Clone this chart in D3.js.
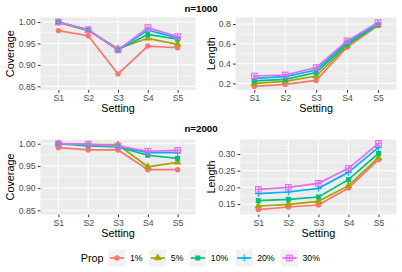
<!DOCTYPE html>
<html>
<head>
<meta charset="utf-8">
<script src="https://cdn.jsdelivr.net/npm/d3@7"></script>
<style>
body { margin: 0; background: #fff; }
text { font-family: "Liberation Sans", Arial, sans-serif; }
</style>
</head>
<body>
<svg width="402" height="272"></svg>
<script>
// categories
var settings = ["S1", "S2", "S3", "S4", "S5"];
var props = ["1%", "5%", "10%", "20%", "30%"];
var colors = ["#F8766D", "#A3A500", "#00BF7D", "#00B0F6", "#E76BF3"];
var shapes = ["circle", "triangle", "square", "plus", "squareplus"];

// values, one row per prop
var cov1000 = [
  [0.980, 0.968, 0.879, 0.944, 0.940],
  [0.999, 0.980, 0.938, 0.962, 0.948],
  [1.000, 0.981, 0.935, 0.971, 0.960],
  [1.000, 0.982, 0.935, 0.981, 0.963],
  [1.000, 0.982, 0.935, 0.987, 0.966]
];
var len1000 = [
  [0.170, 0.190, 0.230, 0.565, 0.783],
  [0.200, 0.220, 0.275, 0.580, 0.790],
  [0.225, 0.240, 0.310, 0.595, 0.795],
  [0.250, 0.268, 0.335, 0.615, 0.803],
  [0.275, 0.285, 0.360, 0.630, 0.815]
];
var cov2000 = [
  [0.991, 0.986, 0.986, 0.9415, 0.9415],
  [1.000, 0.998, 0.998, 0.948, 0.958],
  [1.000, 0.995, 0.993, 0.974, 0.967],
  [1.000, 0.998, 0.994, 0.980, 0.980],
  [1.000, 0.999, 0.995, 0.983, 0.985]
];
var len2000 = [
  [0.133, 0.141, 0.147, 0.198, 0.283],
  [0.144, 0.149, 0.158, 0.205, 0.289],
  [0.160, 0.164, 0.171, 0.223, 0.302],
  [0.181, 0.186, 0.197, 0.245, 0.320],
  [0.194, 0.200, 0.212, 0.257, 0.332]
];

// tick labels
var covTicks = [0.85, 0.90, 0.95, 1.00];
var covMinor = [0.875, 0.925, 0.975];
var len1000Ticks = [0.2, 0.4, 0.6, 0.8];
var len1000Minor = [0.3, 0.5, 0.7];
var len2000Ticks = [0.15, 0.20, 0.25, 0.30];
var len2000Minor = [0.125, 0.175, 0.225, 0.275, 0.325];

var svg = d3.select("svg");

function drawShape(g, shape, color, cx, cy) {
  var s = 2.8;
  if (shape === "circle") {
    g.append("circle").attr("cx", cx).attr("cy", cy).attr("r", 2.7).attr("fill", color);
  } else if (shape === "triangle") {
    g.append("path").attr("transform", "translate(" + cx + "," + cy + ")")
      .attr("d", d3.symbol(d3.symbolTriangle, 26)()).attr("fill", color);
  } else if (shape === "square") {
    g.append("rect").attr("x", cx - 2.5).attr("y", cy - 2.5).attr("width", 5).attr("height", 5).attr("fill", color);
  } else if (shape === "plus") {
    g.append("path").attr("d", "M" + (cx - 3.4) + "," + cy + "H" + (cx + 3.4) + "M" + cx + "," + (cy - 3.4) + "V" + (cy + 3.4))
      .attr("stroke", color).attr("stroke-width", 1.1).attr("fill", "none");
  } else {
    g.append("rect").attr("x", cx - s).attr("y", cy - s).attr("width", 2 * s).attr("height", 2 * s)
      .attr("stroke", color).attr("stroke-width", 1.1).attr("fill", "none");
    g.append("path").attr("d", "M" + (cx - s) + "," + cy + "H" + (cx + s) + "M" + cx + "," + (cy - s) + "V" + (cy + s))
      .attr("stroke", color).attr("stroke-width", 1.1).attr("fill", "none");
  }
}

function panel(p) {
  var x = d3.scalePoint().domain(settings).range([p.x0, p.x1]).padding(0.6);
  var y = d3.scaleLinear().domain(p.domain).range([p.y1, p.y0]);
  var g = svg.append("g");

  g.append("rect").attr("x", p.x0).attr("y", p.y0)
    .attr("width", p.x1 - p.x0).attr("height", p.y1 - p.y0).attr("fill", "#EBEBEB");

  g.selectAll(".minor").data(p.minor).enter().append("line")
    .attr("x1", p.x0).attr("x2", p.x1)
    .attr("y1", function(d) { return y(d); }).attr("y2", function(d) { return y(d); })
    .attr("stroke", "#fff").attr("stroke-width", 0.5);
  g.selectAll(".major").data(p.ticks).enter().append("line")
    .attr("x1", p.x0).attr("x2", p.x1)
    .attr("y1", function(d) { return y(d); }).attr("y2", function(d) { return y(d); })
    .attr("stroke", "#fff").attr("stroke-width", 1.1);
  g.selectAll(".vmajor").data(settings).enter().append("line")
    .attr("x1", function(d) { return x(d); }).attr("x2", function(d) { return x(d); })
    .attr("y1", p.y0).attr("y2", p.y1)
    .attr("stroke", "#fff").attr("stroke-width", 1.1);

  // axes
  var ay = g.append("g").attr("transform", "translate(" + p.x0 + ",0)")
    .call(d3.axisLeft(y).tickValues(p.ticks).tickFormat(d3.format(p.fmt)).tickSize(2.75).tickPadding(2.2));
  var ax = g.append("g").attr("transform", "translate(0," + p.y1 + ")")
    .call(d3.axisBottom(x).tickSize(2.75).tickPadding(2.2));
  [ay, ax].forEach(function(a) {
    a.select(".domain").remove();
    a.selectAll(".tick line").attr("stroke", "#333333").attr("stroke-width", 1);
    a.selectAll(".tick text").attr("fill", "#4D4D4D").attr("font-size", "8.7px")
      .attr("font-family", "Liberation Sans, Arial, sans-serif");
  });

  g.append("text").attr("x", (p.x0 + p.x1) / 2).attr("y", p.y1 + 22)
    .attr("text-anchor", "middle").attr("font-size", "10.8px").text("Setting");
  g.append("text").attr("transform", "translate(" + (p.ylabX) + "," + ((p.y0 + p.y1) / 2) + ") rotate(-90)")
    .attr("text-anchor", "middle").attr("dy", "0.35em").attr("font-size", "10.8px").text(p.ylabel);

  var line = d3.line().x(function(d, i) { return x(settings[i]); }).y(function(d) { return y(d); });
  p.data.forEach(function(row, k) {
    g.append("path").attr("d", line(row)).attr("fill", "none")
      .attr("stroke", colors[k]).attr("stroke-width", 1.7);
  });
  p.data.forEach(function(row, k) {
    row.forEach(function(v, i) { drawShape(g, shapes[k], colors[k], x(settings[i]), y(v)); });
  });
}

panel({ x0: 40.5, x1: 195.5, y0: 17.5, y1: 90, domain: [0.8415, 1.0105],
  ticks: covTicks, minor: covMinor, fmt: ".2f", data: cov1000, ylabel: "Coverage", ylabX: 10 });
panel({ x0: 235.7, x1: 396.5, y0: 17.5, y1: 90, domain: [0.1335, 0.8655],
  ticks: len1000Ticks, minor: len1000Minor, fmt: ".1f", data: len1000, ylabel: "Length", ylabX: 211.7 });
panel({ x0: 40.5, x1: 195.5, y0: 139.5, y1: 214.5, domain: [0.8405, 1.0095],
  ticks: covTicks, minor: covMinor, fmt: ".2f", data: cov2000, ylabel: "Coverage", ylabX: 10 });
panel({ x0: 240.3, x1: 396.5, y0: 139.5, y1: 214.5, domain: [0.1185, 0.3435],
  ticks: len2000Ticks, minor: len2000Minor, fmt: ".2f", data: len2000, ylabel: "Length", ylabX: 211.7 });

// titles
svg.append("text").attr("x", 201).attr("y", 11.5).attr("text-anchor", "middle")
  .attr("font-size", "9.7px").attr("font-weight", "bold").text("n=1000");
svg.append("text").attr("x", 201).attr("y", 131.5).attr("text-anchor", "middle")
  .attr("font-size", "9.7px").attr("font-weight", "bold").text("n=2000");

// legend
var lg = svg.append("g");
var keyX = [108.5, 149.3, 189.3, 235.7, 281];
lg.append("text").attr("x", 80.7).attr("y", 258).attr("dy", "0.35em")
  .attr("font-size", "10.8px").text("Prop");
props.forEach(function(pr, k) {
  var kx = keyX[k];
  lg.append("rect").attr("x", kx).attr("y", 249.5).attr("width", 17).attr("height", 17).attr("fill", "#F2F2F2");
  lg.append("line").attr("x1", kx + 1.5).attr("x2", kx + 15.5).attr("y1", 258).attr("y2", 258)
    .attr("stroke", colors[k]).attr("stroke-width", 1.7);
  drawShape(lg, shapes[k], colors[k], kx + 8.5, 258);
  lg.append("text").attr("x", kx + 21.5).attr("y", 258).attr("dy", "0.35em")
    .attr("font-size", "8.7px").attr("fill", "#000").text(pr);
});
</script>
</body>
</html>
